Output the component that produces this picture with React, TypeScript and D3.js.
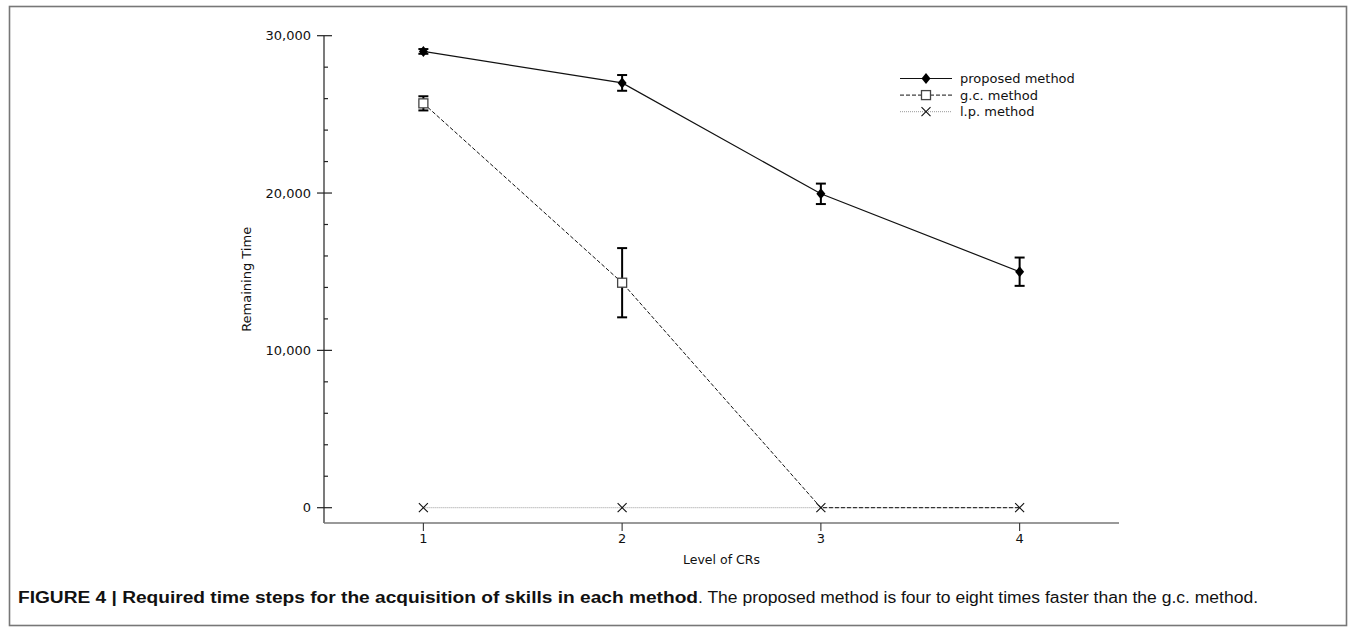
import React from 'react';
import * as d3 from 'd3';

const levels = [1, 2, 3, 4];
const proposed = [29000, 27000, 19950, 15000];
const proposedErr = [150, 500, 650, 900];
const gc = [25700, 14300, 0, 0];
const gcErr = [450, 2200, 0, 0];
const lp = [0, 0, 0, 0];
const yMajor = [0, 10000, 20000, 30000];
const yMinor = d3.range(2000, 30000, 2000).filter(v => v % 10000 !== 0);
const legendItems = ['proposed method', 'g.c. method', 'l.p. method'];

const W = 1355;
const H = 631;

const x = d3.scaleLinear().domain([0.5, 4.5]).range([324, 1119]);
const y = d3.scaleLinear().domain([0, 30000]).range([507.7, 35.7]);
const fmt = d3.format(',');

const line = d3.line<number>().x((d, i) => x(levels[i])).y(d => y(d));

const diamond = (cx: number, cy: number) =>
	`M${cx},${cy - 5.5}L${cx + 4.5},${cy}L${cx},${cy + 5.5}L${cx - 4.5},${cy}Z`;

function Marker({ kind, cx, cy }: { kind: number; cx: number; cy: number }) {
	if (kind === 0) return <path d={diamond(cx, cy)} fill="#000" />;
	if (kind === 1)
		return <rect x={cx - 4.5} y={cy - 4.5} width={9} height={9} fill="#fff" stroke="#444" strokeWidth={1.3} />;
	return (
		<path
			d={`M${cx - 4.5},${cy - 4.5}L${cx + 4.5},${cy + 4.5}M${cx - 4.5},${cy + 4.5}L${cx + 4.5},${cy - 4.5}`}
			stroke="#111"
			strokeWidth={1.1}
		/>
	);
}

const lineStyles = [
	{ stroke: '#111', dash: undefined, width: 1.2 },
	{ stroke: '#111', dash: '4,2', width: 1 },
	{ stroke: '#999', dash: '1,1', width: 1 },
];

function ErrorBar({ lx, v, e }: { lx: number; v: number; e: number }) {
	if (!e) return null;
	const cx = x(lx);
	const top = y(v + e);
	const bot = y(v - e);
	return (
		<g stroke="#000" strokeWidth={2}>
			<line x1={cx} x2={cx} y1={top} y2={bot} />
			<line x1={cx - 5} x2={cx + 5} y1={top} y2={top} />
			<line x1={cx - 5} x2={cx + 5} y1={bot} y2={bot} />
		</g>
	);
}

export default function App() {
	const series = [proposed, gc, lp];
	const errs = [proposedErr, gcErr, null];
	const font = 'DejaVu Sans, sans-serif';
	return (
		<svg width={W} height={H} style={{ position: 'absolute', left: 0, top: 0, background: '#fff' }}>
			<rect x={9.5} y={6.5} width={1337} height={619} fill="none" stroke="#777" strokeWidth={1.6} />

			{/* y axis */}
			<line x1={324} x2={324} y1={y(30000)} y2={523} stroke="#222" strokeWidth={1.2} />
			{yMajor.map(v => (
				<g key={v}>
					<line x1={317} x2={332} y1={y(v)} y2={y(v)} stroke="#222" strokeWidth={1.2} />
					<text x={311} y={y(v)} dy="0.35em" textAnchor="end" fontFamily={font} fontSize={13} fill="#111">
						{fmt(v)}
					</text>
				</g>
			))}
			{yMinor.map(v => (
				<line key={v} x1={324} x2={328} y1={y(v)} y2={y(v)} stroke="#222" strokeWidth={1.2} />
			))}
			<text
				transform={`translate(251,${(y(30000) + 523) / 2}) rotate(-90)`}
				textAnchor="middle"
				fontFamily={font}
				fontSize={13}
				fill="#111"
			>
				Remaining Time
			</text>

			{/* x axis */}
			<line x1={324} x2={1119} y1={523} y2={523} stroke="#777" strokeWidth={1.4} />
			{levels.map(l => (
				<g key={l}>
					<line x1={x(l)} x2={x(l)} y1={523} y2={531} stroke="#333" strokeWidth={1.1} />
					<text x={x(l)} y={543} textAnchor="middle" fontFamily={font} fontSize={13} fill="#111">
						{l}
					</text>
				</g>
			))}
			<text x={(x(2) + x(3)) / 2} y={564} textAnchor="middle" fontFamily={font} fontSize={12.5} fill="#111">
				Level of CRs
			</text>

			{/* series lines, drawn back to front */}
			{[2, 1, 0].map(i => (
				<path
					key={i}
					d={line(series[i]) || ''}
					fill="none"
					stroke={lineStyles[i].stroke}
					strokeWidth={lineStyles[i].width}
					strokeDasharray={lineStyles[i].dash}
				/>
			))}
			{errs.map((es, i) =>
				es ? es.map((e, j) => <ErrorBar key={`${i}-${j}`} lx={levels[j]} v={series[i][j]} e={e} />) : null
			)}
			{[0, 1, 2].map(i =>
				series[i].map((v, j) =>
					// the g.c. square is hidden where it sits on the l.p. cross
					i === 1 && v === lp[j] ? null : (
						<Marker key={`${i}-${j}`} kind={i} cx={x(levels[j])} cy={y(v)} />
					)
				)
			)}

			{/* legend */}
			{legendItems.map((name, i) => {
				const ly = 78.5 + i * 16.6;
				return (
					<g key={name}>
						<line
							x1={900}
							x2={952}
							y1={ly}
							y2={ly}
							stroke={lineStyles[i].stroke}
							strokeWidth={lineStyles[i].width}
							strokeDasharray={lineStyles[i].dash}
						/>
						<Marker kind={i} cx={926} cy={ly} />
						<text x={960} y={ly} dy="0.35em" fontFamily={font} fontSize={13} fill="#111">
							{name}
						</text>
					</g>
				);
			})}

			{/* caption */}
			<text x={18} y={603} fontFamily="Liberation Sans, Arial, sans-serif" fontSize={16} fill="#111">
				<tspan fontWeight="bold" textLength={680} lengthAdjust="spacingAndGlyphs">
					FIGURE 4 | Required time steps for the acquisition of skills in each method
				</tspan>
			</text>
			<text
				x={698}
				y={603}
				fontFamily="Liberation Sans, Arial, sans-serif"
				fontSize={16}
				fill="#111"
				textLength={560}
				lengthAdjust="spacingAndGlyphs"
			>
				. The proposed method is four to eight times faster than the g.c. method.
			</text>
		</svg>
	);
}
